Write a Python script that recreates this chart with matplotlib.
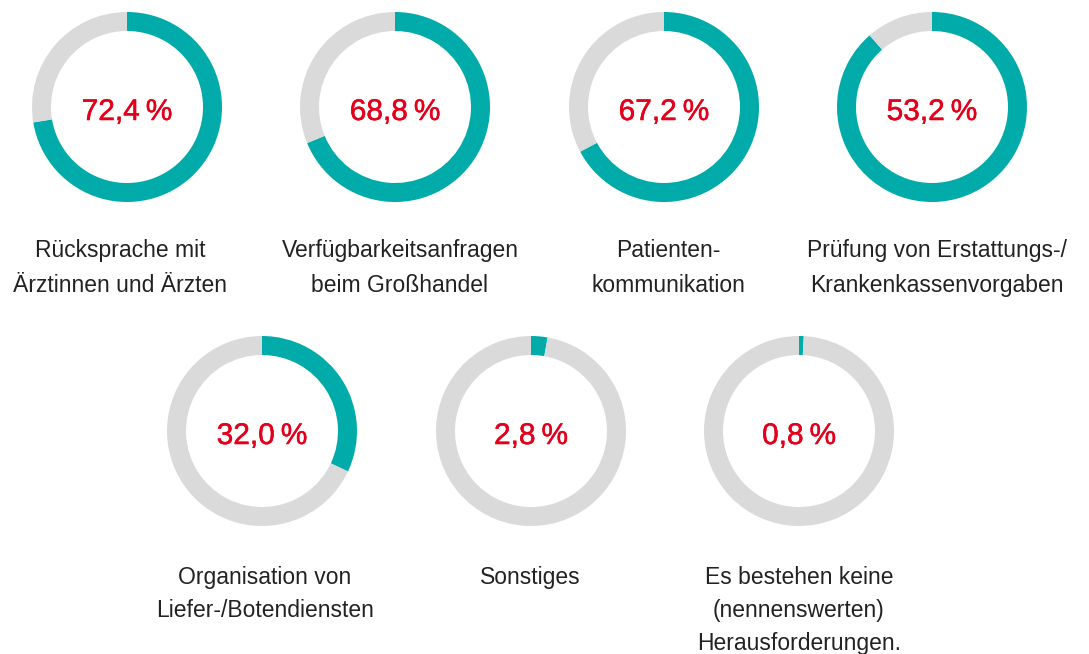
import matplotlib
matplotlib.use("Agg")
import matplotlib.pyplot as plt
import matplotlib.patheffects as pe

# Werte (Beschriftung) und gezeichneter Ringanteil
werte = [72.4, 68.8, 67.2, 53.2, 32.0, 2.8, 0.8]
ring_anteil = [72.4, 68.8, 67.2, 88.6, 32.0, 2.8, 0.8]
kategorien = [
    "Rücksprache mit\nÄrztinnen und Ärzten",
    "Verfügbarkeitsanfragen\nbeim Großhandel",
    "Patienten-\nkommunikation",
    "Prüfung von Erstattungs-/\nKrankenkassenvorgaben",
    "Organisation von\nLiefer-/Botendiensten",
    "Sonstiges",
    "Es bestehen keine\n(nennenswerten)\nHerausforderungen.",
]

TEAL = "#00aba9"
GRAU = "#dadada"
ROT = "#e3001b"

W, H = 1089, 654
fig = plt.figure(figsize=(W / 100, H / 100), dpi=100)
plt.rcParams["font.family"] = ["Liberation Sans", "DejaVu Sans"]

# Ringmitten und Beschriftungsmitten in Pixeln (Layout)
mitten = [(127, 107), (395, 107), (664, 107), (932, 107),
          (262, 431), (531, 431), (799, 431)]
label_x = [120, 400, 668, 937, 265, 530, 799]
grundlinie = [257, 257, 257, 257, 584, 584, 584]
zeilenabstand = [35, 35, 35, 35, 33, 33, 33]
r = 95

for i, (cx, cy) in enumerate(mitten):
    ax = fig.add_axes([(cx - r) / W, 1 - (cy + r) / H, 2 * r / W, 2 * r / H])
    ax.pie([ring_anteil[i], 100 - ring_anteil[i]], colors=[TEAL, GRAU],
           startangle=90, counterclock=False, radius=1,
           wedgeprops=dict(width=0.2, linewidth=0))
    ax.set_xlim(-1, 1)
    ax.set_ylim(-1, 1)
    ax.set_aspect("equal")
    ax.axis("off")
    txt = f"{werte[i]:.1f}".replace(".", ",") + "\u2009%"
    ax.text(0, -0.137, txt, ha="center", va="baseline", color=ROT,
            fontsize=21.5,
            path_effects=[pe.withStroke(linewidth=0.35, foreground=ROT)])

    zeilen = kategorien[i].split("\n")
    for j, z in enumerate(zeilen):
        fig.text(label_x[i] / W, 1 - (grundlinie[i] + j * zeilenabstand[i]) / H, z,
                 ha="center", va="baseline", fontsize=16.5, color="#222222")

fig.savefig("out.png", dpi=100, facecolor="white")
